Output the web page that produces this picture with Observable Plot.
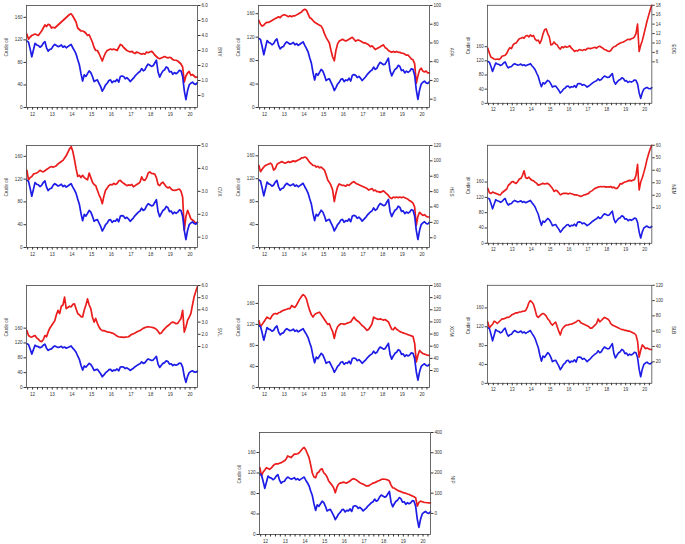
<!DOCTYPE html>
<html><head><meta charset="utf-8">
<script src="https://cdn.jsdelivr.net/npm/d3@7"></script>
<script src="https://cdn.jsdelivr.net/npm/@observablehq/plot@0.6"></script>
<style>
body{margin:0;background:#fff;}
#root{position:relative;width:685px;height:544px;overflow:hidden;font-family:"Liberation Sans",Arial,sans-serif;}
.panel{position:absolute;}
</style></head><body><div id="root"></div>
<script>
// ---------- data (monthly, Mar 2012 .. Nov 2020) ----------
const yearLabels = ["12","13","14","15","16","17","18","19","20"];
const leftTicks = [0, 40, 80, 120, 160];
const leftTitle = "Crude oil";
const seriesNames = ["BNY","APA","EOG","CVX","HES","NEM","SVL","XOM","SLB","NIP"];

const crude = [
  118,116,104,90,102,114,111,110,107,109,
  114,117,106,100,103,104,109,112,110,108,109,111,
  107,109,106,108,110,112,106,101,95,85,76,60,
  47,58,55,60,65,62,55,46,48,49,43,37,
  29,34,40,43,48,49,44,47,46,50,45,55,
  56,55,51,53,50,46,49,52,56,59,62,64,
  69,65,67,73,77,75,73,74,79,84,63,54,
  60,65,67,72,70,63,64,59,62,60,62,66,
  65,55,30,14,30,40,43,45,42,41,44
];
const s1 = [
  4.1,3.75,3.9,4.0,4.05,4.1,4.05,4.0,4.15,4.3,
  4.5,4.7,4.6,4.75,4.7,4.5,4.55,4.5,4.6,4.7,4.8,4.9,
  5.0,5.1,5.2,5.3,5.4,5.45,5.3,5.1,4.9,4.5,4.4,4.3,
  4.3,4.25,4.15,4.0,4.05,3.8,3.55,3.2,3.0,3.0,2.8,2.55,
  2.3,2.6,2.85,3.0,3.05,3.1,3.05,3.1,3.05,3.0,3.2,3.4,
  3.35,3.2,3.1,3.0,2.95,2.9,2.95,2.85,2.8,2.9,2.85,2.8,
  2.75,2.8,2.75,2.9,2.85,2.9,2.95,2.85,2.7,2.6,2.5,2.45,
  2.5,2.55,2.6,2.55,2.5,2.55,2.5,2.4,2.35,2.35,2.3,2.2,
  2.1,1.9,0.9,1.3,1.5,1.6,1.35,1.4,1.3,1.2,1.25
];
const s2 = [
  84,80,78,79,81,82,82,83,84,85,
  86,87,88,87,89,90,90,89,88,89,88,89,
  89,90,91,92,93,95,96,95,91,87,86,84,
  82,81,80,79,78,75,70,66,63,60,52,45,
  41,52,59,62,63,64,63,62,63,64,65,66,
  64,62,63,63,62,61,60,60,59,58,56,57,
  55,53,54,55,56,57,58,55,54,52,51,50,
  51,50,51,50,50,49,49,48,47,47,45,43,
  42,38,17,25,31,33,30,29,30,28,28
];
const s3 = [
  8.9,7.8,7.0,6.8,6.6,6.5,6.6,6.5,6.7,7.2,
  7.3,7.4,7.8,8.5,9.0,8.8,9.6,9.9,10.0,10.5,10.9,11.0,
  11.2,11.0,11.5,11.6,11.3,11.7,11.4,11.6,10.8,10.5,10.6,9.9,
  10.6,11.9,12.8,13.0,12.0,11.3,9.6,9.7,10.2,9.8,9.6,9.0,
  8.7,9.2,9.0,9.3,9.1,9.2,9.4,8.9,8.6,8.2,8.4,8.3,
  8.6,8.5,8.4,8.6,8.5,8.8,8.9,8.8,8.9,9.0,9.1,8.9,
  9.2,9.3,9.1,8.9,8.6,8.5,8.3,8.2,8.4,8.9,9.2,9.3,
  9.6,9.8,10.0,10.1,10.2,10.4,10.6,10.8,10.7,10.9,11.0,11.3,
  12.0,14.0,8.2,9.5,10.5,11.8,13.2,14.6,15.8,17.0,18.0
];
const s4 = [
  3.92,3.5,3.6,3.65,3.75,3.78,3.8,3.85,3.92,3.88,
  3.85,3.9,3.95,4.0,4.05,4.08,4.05,4.08,4.12,4.2,4.25,4.3,
  4.35,4.45,4.55,4.7,4.85,4.95,4.75,4.4,4.0,3.65,3.7,3.6,
  3.7,3.6,3.55,3.5,3.8,3.6,3.4,3.3,3.25,3.05,2.85,2.7,
  2.46,2.8,3.05,3.15,3.25,3.3,3.28,3.35,3.3,3.34,3.45,3.48,
  3.4,3.35,3.3,3.25,3.28,3.26,3.3,3.2,3.25,3.3,3.34,3.4,
  3.63,3.5,3.48,3.6,3.8,3.85,3.78,3.77,3.75,3.6,3.3,3.25,
  3.35,3.4,3.3,3.2,3.15,3.19,3.1,3.05,3.04,3.05,3.08,3.1,
  3.0,2.75,1.3,1.9,2.17,2.0,1.8,1.75,1.7,1.6,1.65
];
const s5 = [
  94,86,89,92,94,95,96,97,95,88,
  90,95,97,98,99,98,97,98,99,98,99,100,
  99,100,101,102,104,104,105,104,101,98,96,94,
  94,92,93,91,92,90,88,82,75,72,68,62,
  47,58,66,70,69,68,68,67,69,68,70,72,
  73,71,70,69,68,67,66,65,64,62,63,64,
  61,62,60,60,59,60,61,59,57,55,52,51,
  53,52,53,52,53,52,53,52,51,50,48,47,
  45,40,16,28,33,31,29,30,28,27,27
];
const s6 = [
  25.5,22,21.5,22.5,22,21.5,21,20.5,20.3,22,
  23,24,25,28,29,30.5,31,30,29.5,31,33,33.5,
  36,39.6,34,33.5,34.5,33,32,31.5,30.5,29.5,28,28.5,
  29,29.5,29,29.3,29.5,28.5,27,25.5,23,24,23.5,22,
  20.3,21,21.5,21.6,21.5,21,21.6,21.2,20.8,20.3,20.3,20,
  19.5,19,19.5,20.3,20.5,21,21.5,22.9,23.5,24.5,25.5,26,
  26.5,26.8,27,26.8,27,26.5,26.8,26.5,27,26,26.5,25.5,
  25.5,27,29.3,29,30,30.6,31,31.5,31.9,31.5,32,32.5,
  35.8,44.8,24.2,30.6,34,38.3,43,48.7,53,57,60
];
const s7 = [
  2.3,1.9,1.8,1.77,1.85,1.9,1.7,1.6,1.45,1.4,
  1.55,1.9,1.8,2.2,2.5,2.7,2.9,3.1,3.6,3.97,3.7,4.3,
  4.4,5.05,4.1,4.2,4.3,4.25,4.45,4.5,4.1,3.7,3.6,3.45,
  3.42,4.0,4.4,4.9,4.4,4.1,3.4,3.0,3.3,2.9,2.6,2.4,
  2.3,2.3,2.25,2.2,2.18,2.15,2.1,2.04,1.95,1.85,1.8,1.77,
  1.77,1.75,1.77,1.78,1.8,1.9,2.0,2.04,2.1,2.2,2.25,2.32,
  2.4,2.5,2.55,2.6,2.62,2.6,2.58,2.55,2.5,2.4,2.25,2.04,
  2.1,2.3,2.45,2.6,2.7,2.8,2.95,3.0,2.95,2.87,2.9,3.1,
  3.3,3.97,2.18,2.6,3.14,3.4,3.7,4.4,5.07,5.5,5.9
];
const s8 = [
  102,92,96,100,104,108,106,105,110,113,
  114,113,115,116,118,119,120,121,122,122,127,125,
  124,128,133,138,142,145,143,138,128,119,112,108,
  112,114,115,116,112,108,104,100,96,97,90,84,
  73,85,92,95,97,97,96,97,98,99,100,104,
  108,104,102,100,97,94,92,89,86,88,92,97,
  108,106,105,104,105,104,103,104,102,100,94,88,
  87,91,88,86,84,83,82,81,80,79,78,77,
  76,65,34,45,53,50,48,47,46,45,45
];
const s9 = [
  72,64,67,69,73,72,70,72,74,76,
  76,77,78,78,79,81,82,83,84,84,85,85,
  86,86,87,91,97,100,98,95,88,80,78,80,
  82,83,82,80,76,74,70,68,70,72,66,60,
  55,62,65,67,68,68,69,69,70,71,72,74,
  74,71,70,69,68,67,66,64,64,66,68,70,
  76,72,74,76,78,77,76,74,70,68,67,66,
  65,64,63,62,62,61,61,60,60,59,58,57,
  55,47,26,35,42,40,37,38,37,36,36
];
const s10 = [
  226,185,205,215,226,222,218,225,235,243,
  245,245,248,251,255,260,268,284,280,276,285,293,
  293,295,300,310,320,326,315,295,276,240,200,180,
  177,200,205,218,220,200,193,180,160,150,140,127,
  102,130,145,150,152,155,152,150,155,160,168,172,
  169,165,158,152,148,145,140,136,136,140,145,150,
  152,156,160,163,168,170,169,168,165,160,140,127,
  125,119,115,110,108,104,102,100,96,94,90,86,
  82,78,36,55,61,58,55,54,53,52,52
];
const seriesValues = [s1,s2,s3,s4,s5,s6,s7,s8,s9,s10];

// right-axis tick labels per panel
const rightTicks = [
  [0,1,2,3,4,5,6],
  [0,20,40,60,80,100],
  [6,8,10,12,14,16,18],
  [1,2,3,4,5],
  [0,20,40,60,80,100,120],
  [10,20,30,40,50,60],
  [1,2,3,4,5,6],
  [20,40,60,80,100,120,140,160],
  [20,40,60,80,100,120],
  [0,100,200,300,400]
];
const rightDecimals = [1,0,0,1,0,0,1,0,0,0];

// ---------- layout (not data) ----------
const layout = [
  {x:26,  y:5,   lmax:181, rmin:-0.8,  rmax:6.0},
  {x:258, y:5,   lmax:174, rmin:-8.9,  rmax:100},
  {x:488, y:5,   lmax:277, rmin:-2.8,  rmax:18},
  {x:26,  y:145, lmax:179, rmin:0.55,  rmax:5.0},
  {x:258, y:145, lmax:178, rmin:-12.7, rmax:120},
  {x:488, y:145, lmax:256, rmin:-18.5, rmax:60},
  {x:26,  y:285, lmax:275, rmin:-2.36, rmax:6.0},
  {x:258, y:285, lmax:194, rmin:-8,    rmax:160},
  {x:488, y:285, lmax:208, rmin:-8.2,  rmax:120},
  {x:259, y:432, lmax:199, rmin:-104,  rmax:400}
];

const months = d3.utcMonth.range(new Date(Date.UTC(2012,2,1)), new Date(Date.UTC(2020,11,1)))
  .map(d => d.getUTCFullYear() + d.getUTCMonth()/12 + 1/24);
const yearPos = yearLabels.map(s => 2000 + (+s) + 0.5);
const quarters = d3.range(2012.25, 2020.9, 0.25);

const ML = 26, MR = 35, MT = 5, MB = 18, FW = 171, FH = 102;
const FONT = '"Liberation Sans", Arial, sans-serif';
const RED = "#ea1c1c", BLUE = "#1c1ce6";

const root = document.getElementById("root");

seriesValues.forEach((vals, k) => {
  const L = layout[k];
  const toL = v => L.lmax * (v - L.rmin) / (L.rmax - L.rmin);
  const rows = months.map((t, i) => ({t, crude: crude[i], red: toL(vals[i])}));
  const rt = rightTicks[k];
  const rtPos = rt.map(toL);
  const fmt = v => (v === 0 ? "0" : v.toFixed(rightDecimals[k]));
  const posLabel = new Map(rtPos.map((p, i) => [p, fmt(rt[i])]));
  const yrLabel = new Map(yearPos.map((p, i) => [p, yearLabels[i]]));

  const chart = Plot.plot({
    width: ML + FW + MR, height: MT + FH + MB,
    marginLeft: ML, marginRight: MR, marginTop: MT, marginBottom: MB,
    style: {fontFamily: FONT, fontSize: "4.6px", color: "#333", background: "transparent", overflow: "visible"},
    x: {domain: [2012.19, 2020.88]},
    y: {domain: [0, L.lmax]},
    marks: [
      Plot.lineY(rows, {x: "t", y: "red", stroke: RED, strokeWidth: 1.7}),
      Plot.lineY(rows, {x: "t", y: "crude", stroke: BLUE, strokeWidth: 1.7}),
      Plot.frame({stroke: "#444", strokeWidth: 0.8}),
      Plot.axisY({ticks: leftTicks, anchor: "left", tickSize: 2.5, tickPadding: 1.5, label: null, tickFormat: d => String(d)}),
      Plot.axisY({ticks: rtPos, anchor: "right", tickSize: 2.5, tickPadding: 1.5, label: null, tickFormat: d => posLabel.get(d)}),
      Plot.axisX({ticks: quarters, anchor: "bottom", tickSize: 2.5, label: null, tickFormat: () => ""}),
      Plot.axisX({ticks: yearPos, anchor: "bottom", tickSize: 0, tickPadding: 5, label: null, tickFormat: d => yrLabel.get(d)}),
      Plot.text([leftTitle], {frameAnchor: "left", dx: -20, rotate: -90, fontSize: 4.6, fill: "#333"}),
      Plot.text([seriesNames[k]], {frameAnchor: "right", dx: 22, rotate: 90, fontSize: 4.6, fill: "#333"})
    ]
  });
  const div = document.createElement("div");
  div.className = "panel";
  div.style.left = (L.x - ML) + "px";
  div.style.top = (L.y - MT) + "px";
  div.appendChild(chart);
  root.appendChild(div);
});
</script>
</body></html>
